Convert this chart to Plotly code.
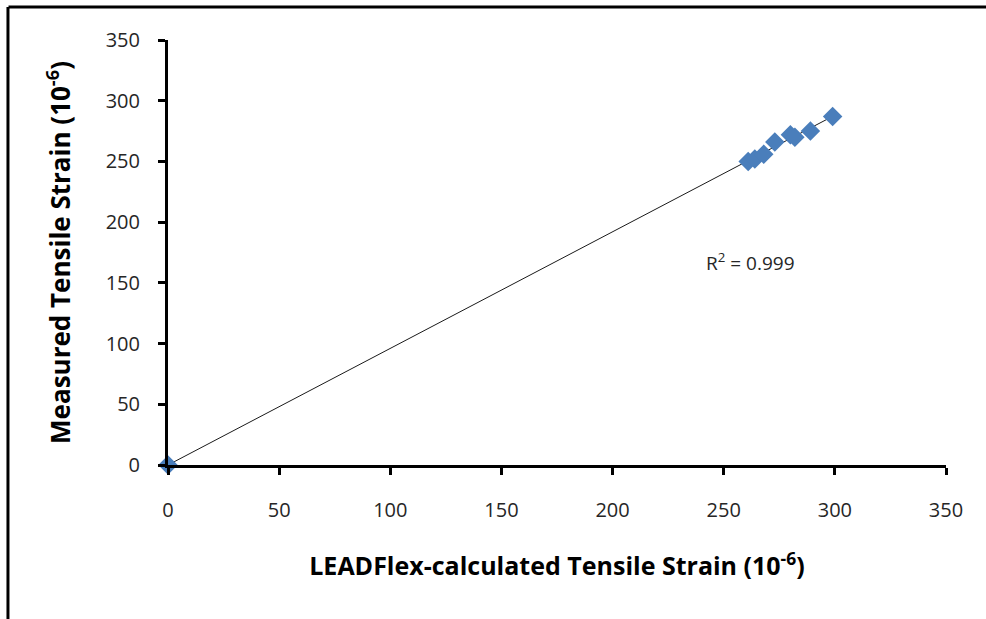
import numpy as np
import plotly.graph_objects as go

# Data
calc_strain = [0, 261, 264, 268, 273, 280, 282, 289, 299]
meas_strain = [0, 250, 252, 256, 266, 272, 270, 275, 287]
r2_text = "R<sup>2</sup> = 0.999"
x_ticks = [0, 50, 100, 150, 200, 250, 300, 350]
y_ticks = [0, 50, 100, 150, 200, 250, 300, 350]

x_title = "<b>LEADFlex-calculated Tensile Strain (10<sup>-6</sup>)</b>"
y_title = "<b>Measured Tensile Strain (10<sup>-6</sup>)</b>"

# Linear trendline fit
coef = np.polyfit(calc_strain, meas_strain, 1)
tx = np.array([min(calc_strain), max(calc_strain)])
ty = np.polyval(coef, tx)

fig = go.Figure()
fig.add_trace(go.Scatter(
    x=tx, y=ty, mode="lines",
    line=dict(color="#1a1a1a", width=1),
    hoverinfo="skip", showlegend=False, cliponaxis=False,
))
fig.add_trace(go.Scatter(
    x=calc_strain, y=meas_strain, mode="markers",
    marker=dict(symbol="diamond", size=15, color="#4a7ebb",
                line=dict(width=0)),
    showlegend=False, cliponaxis=False,
))

fig.add_annotation(x=241, y=167, xref="x", yref="y", text=r2_text,
                   showarrow=False, xanchor="left", yanchor="middle",
                   font=dict(family="Open Sans", size=19, color="#262626"))

font_ticks = dict(family="Open Sans", size=20, color="#262626")
axis_common = dict(
    showgrid=False, zeroline=False, showline=True, linecolor="black",
    linewidth=3, ticks="outside", ticklen=7, tickwidth=3, tickcolor="black",
    tickfont=font_ticks, range=[0, 350],
)

fig.update_xaxes(**axis_common, tickvals=x_ticks,
                 ticktext=[str(v) for v in x_ticks], ticklabelstandoff=18,
                 title=dict(text=x_title, standoff=36,
                            font=dict(family="Open Sans", size=25, color="black")))
fig.update_yaxes(**axis_common, tickvals=y_ticks,
                 ticktext=[str(v) for v in y_ticks], ticklabelstandoff=14,
                 title=dict(text=y_title, standoff=28,
                            font=dict(family="Open Sans", size=26, color="black")))

# Outer frame (only top and left visible in the crop)
fig.add_shape(type="line", xref="paper", yref="paper",
              x0=-0.205, x1=1.1, y0=1.0776, y1=1.0776,
              line=dict(color="black", width=3))
fig.add_shape(type="line", xref="paper", yref="paper",
              x0=-0.2057, x1=-0.2057, y0=1.0776, y1=-0.45,
              line=dict(color="black", width=3))

fig.update_layout(
    width=986, height=619,
    margin=dict(l=168, r=40, t=40, b=154),
    paper_bgcolor="white", plot_bgcolor="white",
)

fig.write_html("out.html")
